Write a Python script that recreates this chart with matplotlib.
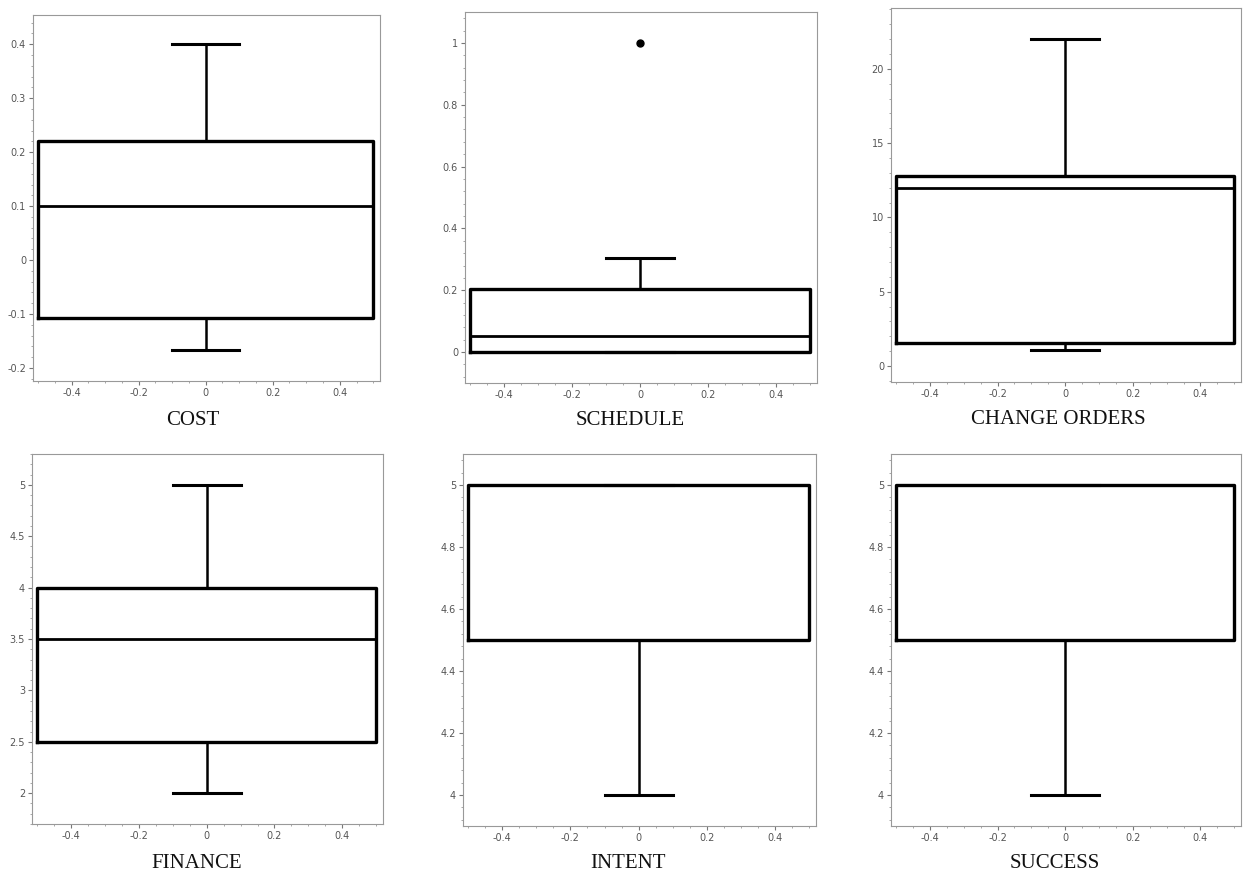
import numpy as np
import matplotlib
matplotlib.use("Agg")
import matplotlib.pyplot as plt
from matplotlib.ticker import MultipleLocator, AutoMinorLocator, FormatStrFormatter

# five-number summaries for each variable
names = ["COST", "SCHEDULE", "CHANGE ORDERS", "FINANCE", "INTENT", "SUCCESS"]
whisker_low = [-0.167, 0.0, 1.1, 2.0, 4.0, 4.0]
q1 = [-0.107, 0.0, 1.55, 2.5, 4.5, 4.5]
median = [0.10, 0.052, 12.0, 3.5, 5.0, 5.0]
q3 = [0.22, 0.205, 12.8, 4.0, 5.0, 5.0]
whisker_high = [0.40, 0.305, 22.0, 5.0, 5.0, 5.0]
outliers = [[], [1.0], [], [], [], []]

y_limits = [(-0.224, 0.454), (-0.10, 1.10), (-1.08, 24.1),
            (1.70, 5.30), (3.90, 5.10), (3.90, 5.10)]
y_steps = [0.1, 0.2, 5, 0.5, 0.2, 0.2]

# axes boxes in pixels: left, right, top, bottom
W, H = 1243, 876
boxes = [(33, 380, 15, 381), (465, 817, 12, 383), (891, 1241, 8, 382),
         (32, 383, 454, 824), (463, 816, 454, 826), (891, 1241, 454, 826)]
title_pos = [(193, 421), (630, 421), (1058, 419),
             (197, 863), (628, 863), (1055, 863)]

fig = plt.figure(figsize=(W / 100, H / 100), dpi=100)

for i, name in enumerate(names):
    l, r, t, b = boxes[i]
    ax = fig.add_axes([l / W, 1 - b / H, (r - l) / W, (b - t) / H])
    stats = [dict(whislo=whisker_low[i], q1=q1[i], med=median[i], q3=q3[i],
                  whishi=whisker_high[i], fliers=outliers[i])]
    ax.bxp(stats, positions=[0], widths=1.0, capwidths=0.2,
           boxprops=dict(color="black", linewidth=2.4),
           medianprops=dict(color="black", linewidth=2.0),
           whiskerprops=dict(color="black", linewidth=1.8),
           capprops=dict(color="black", linewidth=2.2),
           flierprops=dict(marker="o", markerfacecolor="black",
                           markeredgecolor="black", markersize=5))
    ax.set_xlim(-0.515, 0.52)
    ax.set_ylim(*y_limits[i])
    ax.xaxis.set_major_locator(MultipleLocator(0.2))
    ax.yaxis.set_major_locator(MultipleLocator(y_steps[i]))
    ax.xaxis.set_minor_locator(AutoMinorLocator(4))
    ax.yaxis.set_minor_locator(AutoMinorLocator(5))
    ax.xaxis.set_major_formatter(FormatStrFormatter("%g"))
    ax.yaxis.set_major_formatter(FormatStrFormatter("%g"))
    ax.set_xticks(np.arange(-0.4, 0.41, 0.2))
    ax.set_xticklabels(["-0.4", "-0.2", "0", "0.2", "0.4"])
    ax.tick_params(which="major", length=3, width=0.8, color="#777777",
                   labelsize=7, labelcolor="#555555", pad=2)
    ax.tick_params(which="minor", length=1.5, width=0.6, color="#999999")
    for s in ax.spines.values():
        s.set_color("#999999")
        s.set_linewidth(0.8)
    tx, ty = title_pos[i]
    fig.text(tx / W, 1 - ty / H, name, ha="center", va="center",
             fontsize=15, family="Liberation Serif", color="#111111")

fig.savefig("out.png", dpi=100, facecolor="white")
